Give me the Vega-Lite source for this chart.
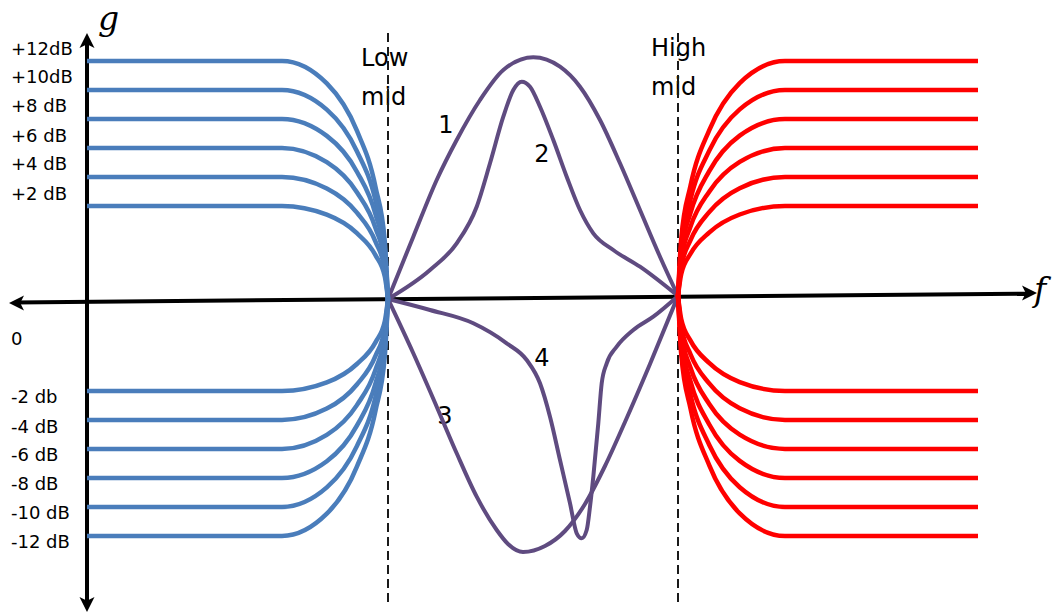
{
  "$schema": "https://vega.github.io/schema/vega-lite/v6.json",
  "width": 1059,
  "height": 614,
  "autosize": {"type": "none"},
  "padding": 0,
  "background": "white",
  "config": {"view": {"stroke": null}},
  "datasets": {
    "axes": [
      {"axis": "g", "f": 8.7, "g": 25.8},
      {"axis": "g", "f": 8.7, "g": -30.7},
      {"axis": "f", "f": 1.5, "g": -0.44},
      {"axis": "f", "f": 103.0, "g": 0.43}
    ],
    "arrows": [
      {"dir": "up", "f": 8.7, "g": 26.5},
      {"dir": "down", "f": 8.7, "g": -31.4},
      {"dir": "left", "f": 0.9, "g": -0.5},
      {"dir": "right", "f": 103.7, "g": 0.5}
    ],
    "bands": [
      {"name": "Low mid", "f": 38.8, "g": 26.5, "g2": -30.7},
      {"name": "High mid", "f": 67.8, "g": 26.5, "g2": -30.7}
    ],
    "gains": [
      {"label": "+12dB", "f": 1.1, "g": 24.3},
      {"label": "+10dB", "f": 1.1, "g": 21.5},
      {"label": "+8 dB", "f": 1.1, "g": 18.6},
      {"label": "+6 dB", "f": 1.1, "g": 15.6},
      {"label": "+4 dB", "f": 1.1, "g": 12.8},
      {"label": "+2 dB", "f": 1.1, "g": 9.8},
      {"label": "0", "f": 1.1, "g": -4.7},
      {"label": "-2 db", "f": 1.1, "g": -10.5},
      {"label": "-4 dB", "f": 1.1, "g": -13.5},
      {"label": "-6 dB", "f": 1.1, "g": -16.3},
      {"label": "-8 dB", "f": 1.1, "g": -19.2},
      {"label": "-10 dB", "f": 1.1, "g": -22.1},
      {"label": "-12 dB", "f": 1.1, "g": -25.0}
    ],
    "bandNames": [
      {"label": "Low", "f": 36.1, "g": 23.2},
      {"label": "mid", "f": 36.1, "g": 19.3},
      {"label": "High", "f": 65.1, "g": 24.2},
      {"label": "mid", "f": 65.1, "g": 20.3}
    ],
    "curveNumbers": [
      {"label": "1", "f": 44.6, "g": 17.2},
      {"label": "2", "f": 54.2, "g": 14.3},
      {"label": "3", "f": 44.5, "g": -11.9},
      {"label": "4", "f": 54.2, "g": -6.1}
    ],
    "axisNames": [
      {"label": "g", "f": 9.8, "g": 26.8},
      {"label": "f", "f": 103.4, "g": -0.3}
    ],
    "low": [
      {"gain": "+12", "f": 8.7, "g": 23.7}, {"gain": "+12", "f": 28.2, "g": 23.7}, {"gain": "+12", "f": 32.68, "g": 21.46}, {"gain": "+12", "f": 35.69, "g": 16.73}, {"gain": "+12", "f": 37.56, "g": 11.06}, {"gain": "+12", "f": 38.48, "g": 5.66}, {"gain": "+12", "f": 38.8, "g": -0.1},
      {"gain": "+10", "f": 8.7, "g": 20.8}, {"gain": "+10", "f": 28.2, "g": 20.8}, {"gain": "+10", "f": 32.68, "g": 18.84}, {"gain": "+10", "f": 35.69, "g": 14.68}, {"gain": "+10", "f": 37.56, "g": 9.7}, {"gain": "+10", "f": 38.48, "g": 4.96}, {"gain": "+10", "f": 38.8, "g": -0.1},
      {"gain": "+8", "f": 8.7, "g": 17.9}, {"gain": "+8", "f": 28.2, "g": 17.9}, {"gain": "+8", "f": 32.68, "g": 16.21}, {"gain": "+8", "f": 35.69, "g": 12.63}, {"gain": "+8", "f": 37.56, "g": 8.34}, {"gain": "+8", "f": 38.48, "g": 4.26}, {"gain": "+8", "f": 38.8, "g": -0.1},
      {"gain": "+6", "f": 8.7, "g": 15.0}, {"gain": "+6", "f": 28.2, "g": 15.0}, {"gain": "+6", "f": 32.68, "g": 13.58}, {"gain": "+6", "f": 35.69, "g": 10.58}, {"gain": "+6", "f": 37.56, "g": 6.98}, {"gain": "+6", "f": 38.48, "g": 3.55}, {"gain": "+6", "f": 38.8, "g": -0.1},
      {"gain": "+4", "f": 8.7, "g": 12.1}, {"gain": "+4", "f": 28.2, "g": 12.1}, {"gain": "+4", "f": 32.68, "g": 10.95}, {"gain": "+4", "f": 35.69, "g": 8.53}, {"gain": "+4", "f": 37.56, "g": 5.62}, {"gain": "+4", "f": 38.48, "g": 2.85}, {"gain": "+4", "f": 38.8, "g": -0.1},
      {"gain": "+2", "f": 8.7, "g": 9.2}, {"gain": "+2", "f": 28.2, "g": 9.2}, {"gain": "+2", "f": 32.68, "g": 8.33}, {"gain": "+2", "f": 35.69, "g": 6.48}, {"gain": "+2", "f": 37.56, "g": 4.26}, {"gain": "+2", "f": 38.48, "g": 2.15}, {"gain": "+2", "f": 38.8, "g": -0.1},
      {"gain": "-2", "f": 8.7, "g": -9.3}, {"gain": "-2", "f": 28.2, "g": -9.3}, {"gain": "-2", "f": 32.68, "g": -8.44}, {"gain": "-2", "f": 35.69, "g": -6.6}, {"gain": "-2", "f": 37.56, "g": -4.41}, {"gain": "-2", "f": 38.48, "g": -2.33}, {"gain": "-2", "f": 38.8, "g": -0.1},
      {"gain": "-4", "f": 8.7, "g": -12.2}, {"gain": "-4", "f": 28.2, "g": -12.2}, {"gain": "-4", "f": 32.68, "g": -11.06}, {"gain": "-4", "f": 35.69, "g": -8.65}, {"gain": "-4", "f": 37.56, "g": -5.77}, {"gain": "-4", "f": 38.48, "g": -3.03}, {"gain": "-4", "f": 38.8, "g": -0.1},
      {"gain": "-6", "f": 8.7, "g": -15.1}, {"gain": "-6", "f": 28.2, "g": -15.1}, {"gain": "-6", "f": 32.68, "g": -13.69}, {"gain": "-6", "f": 35.69, "g": -10.71}, {"gain": "-6", "f": 37.56, "g": -7.14}, {"gain": "-6", "f": 38.48, "g": -3.73}, {"gain": "-6", "f": 38.8, "g": -0.1},
      {"gain": "-8", "f": 8.7, "g": -18.0}, {"gain": "-8", "f": 28.2, "g": -18.0}, {"gain": "-8", "f": 32.68, "g": -16.32}, {"gain": "-8", "f": 35.69, "g": -12.76}, {"gain": "-8", "f": 37.56, "g": -8.5}, {"gain": "-8", "f": 38.48, "g": -4.43}, {"gain": "-8", "f": 38.8, "g": -0.1},
      {"gain": "-10", "f": 8.7, "g": -20.9}, {"gain": "-10", "f": 28.2, "g": -20.9}, {"gain": "-10", "f": 32.68, "g": -18.94}, {"gain": "-10", "f": 35.69, "g": -14.81}, {"gain": "-10", "f": 37.56, "g": -9.86}, {"gain": "-10", "f": 38.48, "g": -5.13}, {"gain": "-10", "f": 38.8, "g": -0.1},
      {"gain": "-12", "f": 8.7, "g": -23.8}, {"gain": "-12", "f": 28.2, "g": -23.8}, {"gain": "-12", "f": 32.68, "g": -21.57}, {"gain": "-12", "f": 35.69, "g": -16.86}, {"gain": "-12", "f": 37.56, "g": -11.22}, {"gain": "-12", "f": 38.48, "g": -5.84}, {"gain": "-12", "f": 38.8, "g": -0.1}
    ],
    "high": [
      {"gain": "+12", "f": 67.8, "g": 0.2}, {"gain": "+12", "f": 68.12, "g": 5.89}, {"gain": "+12", "f": 69.05, "g": 11.22}, {"gain": "+12", "f": 70.94, "g": 16.81}, {"gain": "+12", "f": 73.97, "g": 21.49}, {"gain": "+12", "f": 78.5, "g": 23.7}, {"gain": "+12", "f": 97.8, "g": 23.7},
      {"gain": "+10", "f": 67.8, "g": 0.2}, {"gain": "+10", "f": 68.12, "g": 5.19}, {"gain": "+10", "f": 69.05, "g": 9.86}, {"gain": "+10", "f": 70.94, "g": 14.76}, {"gain": "+10", "f": 73.97, "g": 18.86}, {"gain": "+10", "f": 78.5, "g": 20.8}, {"gain": "+10", "f": 97.8, "g": 20.8},
      {"gain": "+8", "f": 67.8, "g": 0.2}, {"gain": "+8", "f": 68.12, "g": 4.48}, {"gain": "+8", "f": 69.05, "g": 8.5}, {"gain": "+8", "f": 70.94, "g": 12.71}, {"gain": "+8", "f": 73.97, "g": 16.24}, {"gain": "+8", "f": 78.5, "g": 17.9}, {"gain": "+8", "f": 97.8, "g": 17.9},
      {"gain": "+6", "f": 67.8, "g": 0.2}, {"gain": "+6", "f": 68.12, "g": 3.78}, {"gain": "+6", "f": 69.05, "g": 7.14}, {"gain": "+6", "f": 70.94, "g": 10.66}, {"gain": "+6", "f": 73.97, "g": 13.61}, {"gain": "+6", "f": 78.5, "g": 15.0}, {"gain": "+6", "f": 97.8, "g": 15.0},
      {"gain": "+4", "f": 67.8, "g": 0.2}, {"gain": "+4", "f": 68.12, "g": 3.08}, {"gain": "+4", "f": 69.05, "g": 5.78}, {"gain": "+4", "f": 70.94, "g": 8.61}, {"gain": "+4", "f": 73.97, "g": 10.98}, {"gain": "+4", "f": 78.5, "g": 12.1}, {"gain": "+4", "f": 97.8, "g": 12.1},
      {"gain": "+2", "f": 67.8, "g": 0.2}, {"gain": "+2", "f": 68.12, "g": 2.38}, {"gain": "+2", "f": 69.05, "g": 4.42}, {"gain": "+2", "f": 70.94, "g": 6.56}, {"gain": "+2", "f": 73.97, "g": 8.35}, {"gain": "+2", "f": 78.5, "g": 9.2}, {"gain": "+2", "f": 97.8, "g": 9.2},
      {"gain": "-2", "f": 67.8, "g": 0.2}, {"gain": "-2", "f": 68.12, "g": -2.1}, {"gain": "-2", "f": 69.05, "g": -4.26}, {"gain": "-2", "f": 70.94, "g": -6.52}, {"gain": "-2", "f": 73.97, "g": -8.41}, {"gain": "-2", "f": 78.5, "g": -9.3}, {"gain": "-2", "f": 97.8, "g": -9.3},
      {"gain": "-4", "f": 67.8, "g": 0.2}, {"gain": "-4", "f": 68.12, "g": -2.8}, {"gain": "-4", "f": 69.05, "g": -5.62}, {"gain": "-4", "f": 70.94, "g": -8.57}, {"gain": "-4", "f": 73.97, "g": -11.03}, {"gain": "-4", "f": 78.5, "g": -12.2}, {"gain": "-4", "f": 97.8, "g": -12.2},
      {"gain": "-6", "f": 67.8, "g": 0.2}, {"gain": "-6", "f": 68.12, "g": -3.5}, {"gain": "-6", "f": 69.05, "g": -6.98}, {"gain": "-6", "f": 70.94, "g": -10.62}, {"gain": "-6", "f": 73.97, "g": -13.66}, {"gain": "-6", "f": 78.5, "g": -15.1}, {"gain": "-6", "f": 97.8, "g": -15.1},
      {"gain": "-8", "f": 67.8, "g": 0.2}, {"gain": "-8", "f": 68.12, "g": -4.2}, {"gain": "-8", "f": 69.05, "g": -8.34}, {"gain": "-8", "f": 70.94, "g": -12.67}, {"gain": "-8", "f": 73.97, "g": -16.29}, {"gain": "-8", "f": 78.5, "g": -18.0}, {"gain": "-8", "f": 97.8, "g": -18.0},
      {"gain": "-10", "f": 67.8, "g": 0.2}, {"gain": "-10", "f": 68.12, "g": -4.91}, {"gain": "-10", "f": 69.05, "g": -9.7}, {"gain": "-10", "f": 70.94, "g": -14.72}, {"gain": "-10", "f": 73.97, "g": -18.92}, {"gain": "-10", "f": 78.5, "g": -20.9}, {"gain": "-10", "f": 97.8, "g": -20.9},
      {"gain": "-12", "f": 67.8, "g": 0.2}, {"gain": "-12", "f": 68.12, "g": -5.61}, {"gain": "-12", "f": 69.05, "g": -11.06}, {"gain": "-12", "f": 70.94, "g": -16.77}, {"gain": "-12", "f": 73.97, "g": -21.54}, {"gain": "-12", "f": 78.5, "g": -23.8}, {"gain": "-12", "f": 97.8, "g": -23.8}
    ],
    "mid": [
      {"curve": "1", "f": 38.8, "g": -0.1}, {"curve": "1", "f": 41.33, "g": 6.13}, {"curve": "1", "f": 43.67, "g": 11.8}, {"curve": "1", "f": 45.67, "g": 15.8}, {"curve": "1", "f": 48.0, "g": 19.8}, {"curve": "1", "f": 50.33, "g": 22.8}, {"curve": "1", "f": 53.33, "g": 24.07}, {"curve": "1", "f": 56.0, "g": 23.13}, {"curve": "1", "f": 58.0, "g": 21.13}, {"curve": "1", "f": 60.0, "g": 17.8}, {"curve": "1", "f": 62.0, "g": 13.47}, {"curve": "1", "f": 64.0, "g": 8.8}, {"curve": "1", "f": 66.0, "g": 4.13}, {"curve": "1", "f": 67.8, "g": 0.2},
      {"curve": "2", "f": 38.8, "g": -0.1}, {"curve": "2", "f": 43.0, "g": 2.8}, {"curve": "2", "f": 45.67, "g": 5.47}, {"curve": "2", "f": 47.67, "g": 9.13}, {"curve": "2", "f": 49.0, "g": 13.47}, {"curve": "2", "f": 50.33, "g": 18.13}, {"curve": "2", "f": 51.33, "g": 20.8}, {"curve": "2", "f": 52.17, "g": 21.63}, {"curve": "2", "f": 53.0, "g": 21.13}, {"curve": "2", "f": 54.0, "g": 19.13}, {"curve": "2", "f": 55.33, "g": 15.8}, {"curve": "2", "f": 56.67, "g": 12.13}, {"curve": "2", "f": 58.0, "g": 8.8}, {"curve": "2", "f": 59.33, "g": 6.47}, {"curve": "2", "f": 61.33, "g": 4.8}, {"curve": "2", "f": 64.0, "g": 3.13}, {"curve": "2", "f": 67.8, "g": 0.2},
      {"curve": "3", "f": 38.8, "g": -0.1}, {"curve": "3", "f": 41.33, "g": -5.53}, {"curve": "3", "f": 43.67, "g": -10.87}, {"curve": "3", "f": 45.67, "g": -15.53}, {"curve": "3", "f": 47.67, "g": -19.87}, {"curve": "3", "f": 49.67, "g": -23.2}, {"curve": "3", "f": 50.8, "g": -24.6}, {"curve": "3", "f": 52.3, "g": -25.4}, {"curve": "3", "f": 54.5, "g": -24.8}, {"curve": "3", "f": 56.5, "g": -23.3}, {"curve": "3", "f": 58.5, "g": -20.6}, {"curve": "3", "f": 60.5, "g": -16.8}, {"curve": "3", "f": 62.5, "g": -12.4}, {"curve": "3", "f": 65.0, "g": -6.6}, {"curve": "3", "f": 67.8, "g": 0.2},
      {"curve": "4", "f": 38.8, "g": -0.1}, {"curve": "4", "f": 43.0, "g": -1.2}, {"curve": "4", "f": 47.33, "g": -2.53}, {"curve": "4", "f": 50.67, "g": -4.53}, {"curve": "4", "f": 52.67, "g": -6.2}, {"curve": "4", "f": 54.0, "g": -8.53}, {"curve": "4", "f": 55.0, "g": -11.87}, {"curve": "4", "f": 56.0, "g": -16.2}, {"curve": "4", "f": 57.0, "g": -20.53}, {"curve": "4", "f": 57.67, "g": -23.53}, {"curve": "4", "f": 58.17, "g": -24.03}, {"curve": "4", "f": 58.67, "g": -23.2}, {"curve": "4", "f": 59.0, "g": -20.87}, {"curve": "4", "f": 59.33, "g": -17.87}, {"curve": "4", "f": 59.83, "g": -12.53}, {"curve": "4", "f": 60.17, "g": -8.53}, {"curve": "4", "f": 60.67, "g": -6.53}, {"curve": "4", "f": 61.67, "g": -4.87}, {"curve": "4", "f": 63.33, "g": -3.2}, {"curve": "4", "f": 65.33, "g": -1.87}, {"curve": "4", "f": 67.8, "g": 0.2}
    ]
  },
  "encoding": {
    "x": {"field": "f", "type": "quantitative", "scale": {"domain": [0, 105.9], "nice": false, "zero": false}, "axis": null},
    "y": {"field": "g", "type": "quantitative", "scale": {"domain": [-31.6, 29.8], "nice": false, "zero": false}, "axis": null}
  },
  "layer": [
    {
      "data": {"name": "axes"},
      "mark": {"type": "line", "color": "black", "strokeWidth": 4},
      "encoding": {"detail": {"field": "axis"}}
    },
    {
      "data": {"name": "arrows"},
      "mark": {"type": "point", "filled": true, "color": "black", "opacity": 1, "size": 900, "strokeWidth": 0},
      "encoding": {
        "shape": {
          "field": "dir",
          "type": "nominal",
          "scale": {
            "domain": ["up", "down", "left", "right"],
            "range": [
              "M0,0 L-0.5,1 L0,0.75 L0.5,1 Z",
              "M0,0 L-0.5,-1 L0,-0.75 L0.5,-1 Z",
              "M0,0 L1,-0.5 L0.75,0 L1,0.5 Z",
              "M0,0 L-1,-0.5 L-0.75,0 L-1,0.5 Z"
            ]
          },
          "legend": null
        }
      }
    },
    {
      "data": {"name": "gains"},
      "mark": {"type": "text", "align": "left", "baseline": "alphabetic", "font": "DejaVu Sans", "fontSize": 18, "color": "black"},
      "encoding": {"text": {"field": "label"}}
    },
    {
      "data": {"name": "bandNames"},
      "mark": {"type": "text", "align": "left", "baseline": "alphabetic", "font": "DejaVu Sans", "fontSize": 24, "color": "black"},
      "encoding": {"text": {"field": "label"}}
    },
    {
      "data": {"name": "curveNumbers"},
      "mark": {"type": "text", "align": "center", "baseline": "middle", "font": "DejaVu Sans", "fontSize": 24, "color": "black"},
      "encoding": {"text": {"field": "label"}}
    },
    {
      "data": {"name": "axisNames"},
      "mark": {"type": "text", "align": "left", "baseline": "alphabetic", "font": "DejaVu Serif", "fontStyle": "italic", "fontSize": 33, "color": "black"},
      "encoding": {"text": {"field": "label"}}
    },
    {
      "data": {"name": "bands"},
      "mark": {"type": "rule", "color": "#1a1a1a", "strokeWidth": 2, "strokeDash": [9, 5]},
      "encoding": {"y2": {"field": "g2"}}
    },
    {
      "data": {"name": "mid"},
      "mark": {"type": "line", "color": "#5f4b80", "strokeWidth": 4, "interpolate": "monotone"},
      "encoding": {"detail": {"field": "curve"}}
    },
    {
      "data": {"name": "low"},
      "mark": {"type": "line", "color": "#4a7dbb", "strokeWidth": 4.5, "interpolate": "monotone"},
      "encoding": {"detail": {"field": "gain"}}
    },
    {
      "data": {"name": "high"},
      "mark": {"type": "line", "color": "#ff0000", "strokeWidth": 4.5, "interpolate": "monotone"},
      "encoding": {"detail": {"field": "gain"}}
    }
  ]
}
